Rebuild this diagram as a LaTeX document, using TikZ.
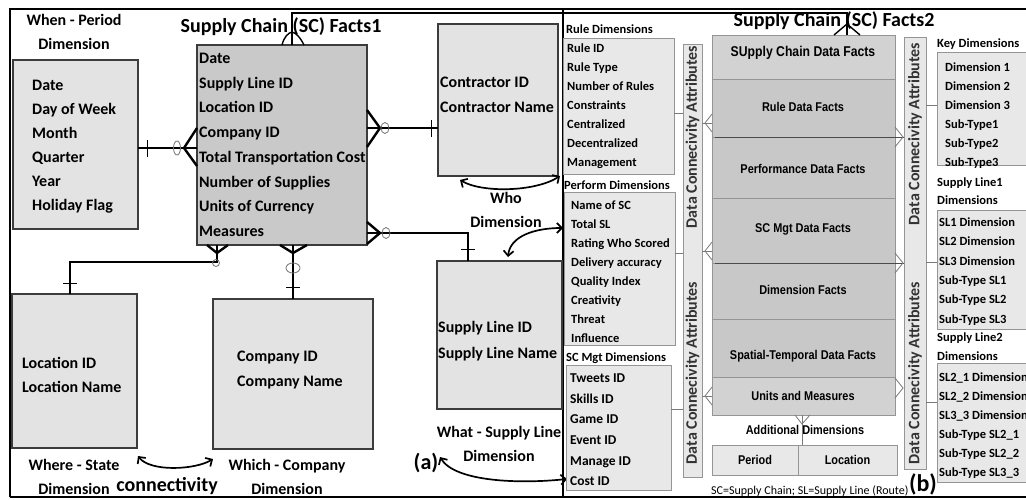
\documentclass[tikz,border=0pt]{standalone}
\usepackage{fontspec}
\setmainfont{Carlito}
\newfontfamily\arialn[FakeStretch=0.86]{Liberation Sans}
\usetikzlibrary{arrows.meta}
\definecolor{boxA}{HTML}{E3E3E3}
\definecolor{factA}{HTML}{C9C9C9}
\definecolor{edgeA}{HTML}{3C3C3C}
\definecolor{boxB}{HTML}{E8E8E8}
\definecolor{edgeB}{HTML}{959595}
\definecolor{factB}{HTML}{C8C8C8}
\definecolor{factC}{HTML}{D2D2D2}
\definecolor{linkB}{HTML}{7A7A7A}
\definecolor{inkB}{HTML}{333333}

% rectangle node from its corners (x1,y1)-(x2,y2)
\newcommand\rectnode[6]{\node[#1, rectangle, inner sep=0pt, outer sep=0pt,
  minimum width={(#5-#3)*1pt}, minimum height={(#6-#4)*1pt}]
  (#2) at ({(#3+#5)/2},{(#4+#6)/2}) {};}
% a column of left-aligned text lines: style, prefix, x, first baseline, step, items
\newcommand\stack[6]{\foreach \itm [count=\i from 0] in {#6}
  {\node[#1, anchor=base west, inner sep=0pt] (#2-\i) at (#3, #4+#5*\i) {\itm};}}

\begin{document}
\begin{tikzpicture}[x=1pt,y=-1pt,
  boxa/.style={draw=edgeA,fill=boxA,line width=1.1pt},
  facta/.style={draw=edgeA,fill=factA,line width=1.1pt},
  boxb/.style={draw=edgeB,fill=boxB,line width=0.9pt},
  factrow/.style={draw=edgeB,fill=factB,line width=0.9pt},
  factrowl/.style={draw=edgeB,fill=factC,line width=0.9pt},
  er/.style={line width=2.4pt,black},
  erbar/.style={line width=1pt,black},
  eroval/.style={line width=0.8pt,draw=black!55},
  thinl/.style={line width=0.8pt,draw=linkB},
  link/.style={line width=1.4pt,black},
  hand/.style={line width=1.7pt,{Straight Barb[length=5pt,width=10pt]}-{Straight Barb[length=5pt,width=10pt]}},
  tA/.style={font=\bfseries\fontsize{16}{24}\selectfont},
  tT/.style={font=\bfseries\fontsize{20}{24}\selectfont},
  tB/.style={font=\bfseries\fontsize{12.5}{15}\selectfont},
  tC/.style={font=\bfseries\fontsize{13.5}{16}\selectfont},
  tF/.style={font=\arialn\bfseries\fontsize{12.7}{15}\selectfont},
  dca/.style={rotate=90,text=inkB,font=\bfseries\fontsize{16}{17}\selectfont}]

\useasboundingbox (0,0) rectangle (1026,500);
\fill[white] (0,0) rectangle (1026,500);

% frame and panel divider
\draw[line width=2.6pt] (10,497) -- (10,9) -- (1030,9);
\draw[line width=2pt] (10,497) -- (1030,497);
\draw[line width=1.2pt] (563,9) -- (563,497);

% ---------- panel (a): star schema ----------
\rectnode{boxa}{when}{13}{60}{138}{229}
\rectnode{facta}{f1}{197}{45}{367}{245}
\rectnode{boxa}{con}{438}{24}{558}{176}
\rectnode{boxa}{sl}{437}{261}{562}{409}
\rectnode{boxa}{loc}{12}{294}{137}{448}
\rectnode{boxa}{com}{213}{299}{373}{449}

% When -> Facts1
\draw[er] (when.east |- 0,148) -- (f1.west |- 0,148);
\draw[er] (f1.west |- 0,128) -- (184,148) -- (f1.west |- 0,166);
\draw[erbar] (147,140) -- (147,157);
\draw[eroval] (177,148) ellipse (3.5pt and 7pt);
% Facts1 -> Contractor
\draw[er] (f1.east |- 0,128) -- (con.west |- 0,128);
\draw[er] (f1.east |- 0,110) -- (380,128) -- (f1.east |- 0,147);
\draw[eroval] (385,128) ellipse (4pt and 5.5pt);
\draw[erbar] (431,120) -- (431,137);
% Facts1 -> Supply Line
\draw[er] (f1.east |- 0,233) -- (468,233) -- (sl.north -| 468,0);
\draw[er] (f1.east |- 0,222) -- (380,233) -- (f1.east |- 0,244);
\draw[eroval] (386,233) ellipse (4pt and 5.5pt);
\draw[erbar] (461,249) -- (475,249);
% Facts1 -> Location
\draw[er] (f1.south -| 217,0) -- (217,262) -- (70,262) -- (loc.north -| 70,0);
\draw[er] (f1.south -| 207,0) -- (217,253) -- (f1.south -| 228,0);
\draw[eroval] (216,263) circle (3.5pt);
\draw[erbar] (63,283) -- (77,283);
% Facts1 -> Company
\draw[er] (f1.south -| 293,0) -- (com.north -| 293,0);
\draw[er] (f1.south -| 280,0) -- (293,253) -- (f1.south -| 307,0);
\draw[eroval] (293,268) ellipse (7pt and 5pt);
\draw[erbar] (286,287) -- (300,287);

% box contents
\stack{tA}{whenT}{32}{90.5}{24}{Date,Day of Week,Month,Quarter,Year,Holiday Flag}
\stack{tA}{f1T}{199}{63.5}{24.7}{Date,Supply Line ID,Location ID,Company ID,Total Transportation Cost,Number of Supplies,Units of Currency,Measures}
\stack{tA}{conT}{440}{87.5}{25}{Contractor ID,Contractor Name}
\stack{tA}{slT}{438}{332.5}{25.5}{Supply Line ID,Supply Line Name}
\stack{tA}{locT}{22}{368.5}{24}{Location ID,Location Name}
\stack{tA}{comT}{237}{361.5}{25}{Company ID,Company Name}

% labels
\node[tA,align=center] (whenL) at (74,32) {When - Period\\Dimension};
\node[tT] (f1L) at (281,27) {Supply Chain (SC) Facts1};
\node[tA,align=center] (whoL) at (506,210) {Who\\Dimension};
\node[tA,align=center] (whatL) at (499,444) {What - Supply Line\\Dimension};
\node[tA,align=center] (whereL) at (74,477) {Where - State\\Dimension};
\node[tA,align=center] (whichL) at (287,477) {Which - Company\\Dimension};
\node[tT] (connL) at (167,486) {connectivity};
\node[font=\bfseries\fontsize{22}{24}\selectfont] (aL) at (426,463) {(a)};

% hand-drawn arrows
\draw[hand] (460,180) .. controls (482,193) and (535,192) .. (560,176);
\draw[hand] (508,257) .. controls (510,236) and (535,228) .. (563,228);
\draw[hand] (440,457) .. controls (455,482) and (520,484) .. (567,479);
\draw[hand] (138,456) .. controls (150,472) and (195,470) .. (213,459);

% ---------- panel (b): layered facts ----------
\rectnode{boxb}{rule}{563}{38}{674}{174}
\rectnode{boxb}{perf}{564}{192}{675}{345}
\rectnode{boxb}{mgt}{566}{365}{671}{490}
\rectnode{boxb}{dcaL}{683}{44}{702}{477}
\rectnode{factrowl}{fr1}{712}{35}{895}{79}
\rectnode{factrow}{fr2}{712}{79}{895}{137}
\rectnode{factrow}{fr3}{712}{137}{895}{198}
\rectnode{factrow}{fr4}{712}{198}{895}{263}
\rectnode{factrow}{fr5}{712}{263}{895}{319}
\rectnode{factrow}{fr6}{712}{319}{895}{377}
\rectnode{factrowl}{fr7}{712}{377}{895}{415}
\rectnode{boxb}{dcaR}{904}{37}{926}{469}
\rectnode{boxb}{key}{937}{52}{1035}{165}
\rectnode{boxb}{sla}{937}{210}{1035}{329}
\rectnode{boxb}{slb}{937}{363}{1035}{482}
\rectnode{boxb}{per}{712}{445}{798}{475}
\rectnode{boxb}{locb}{798}{445}{897}{475}

% links: dimension boxes to the left attribute bar
\draw[thinl] (rule.east |- 0,113) -- (dcaL.west |- 0,113);
\draw[thinl] (perf.east |- 0,253) -- (dcaL.west |- 0,253);
\draw[thinl] (mgt.east |- 0,409) -- (dcaL.west |- 0,409);
% left attribute bar to the fact table
\foreach \yy in {123,251,396}{
  \draw[thinl] (dcaL.east |- 0,\yy) -- (fr1.west |- 0,\yy);
  \draw[thinl] (712,\yy-9) -- (705,\yy) -- (712,\yy+9);}
% fact table to the right attribute bar
\draw[thinl,draw=black!70] (715,137) -- (dcaR.west |- 0,137);
\draw[thinl,draw=black!70] (715,263) -- (dcaR.west |- 0,263);
\foreach \yy in {137,263,388}{
  \draw[thinl] (895,\yy-10) -- (903,\yy) -- (895,\yy+10);}
% right attribute bar to key and supply line boxes
\draw[thinl] (dcaR.east |- 0,105) -- (key.west |- 0,105);
\draw[thinl] (dcaR.east |- 0,262) -- (sla.west |- 0,262);
\draw[thinl] (dcaR.east |- 0,402) -- (slb.west |- 0,402);
% fact table to additional dimensions
\node[tF] (addL) at (805,430) {Additional Dimensions};
\draw[thinl] (fr7.south -| 802,0) -- (locb.north -| 802,0);
\draw[thinl] (795,415) -- (802,424) -- (810,415);

% link between the two fact tables
\draw[link] (f1.north -| 292,0) -- (292,13) -- (847,13) -- (fr1.north -| 847,0);
\draw[link] (282,45) .. controls (284,37) and (288,33) .. (292,32) .. controls (296,33) and (300,37) .. (304,45);
\draw[link] (834,35) -- (847,24) -- (860,35);

% fact table rows
\node[tF,font=\arialn\bfseries\fontsize{14.2}{16}\selectfont] (fr1T) at (803,53) {SUpply Chain Data Facts};
\node[tF] (fr2T) at (803,107) {Rule Data Facts};
\node[tF] (fr3T) at (803,169) {Performance Data Facts};
\node[tF] (fr4T) at (803,229) {SC Mgt Data Facts};
\node[tF] (fr5T) at (803,290) {Dimension Facts};
\node[tF] (fr6T) at (803,356) {Spatial-Temporal Data Facts};
\node[tF] (fr7T) at (803,396) {Units and Measures};
\node[tF] (perT) at (per) {Period};
\node[tF] (locbT) at (locb) {Location};

% attribute bars
\node[dca] (dcaL1) at (692.5,137) {Data Connecivity Attributes};
\node[dca] (dcaL2) at (692.5,373) {Data Connecivity Attributes};
\node[dca] (dcaR1) at (915,134) {Data Connecivity Attributes};
\node[dca] (dcaR2) at (915,373) {Data Connecivity Attributes};

% dimension lists
\node[tB,anchor=base west,inner sep=0pt] (ruleL) at (566,33.3) {Rule Dimensions};
\node[tB,anchor=base west,inner sep=0pt] (perfL) at (564,189.3) {Perform Dimensions};
\node[tB,anchor=base west,inner sep=0pt] (mgtL) at (566,361.3) {SC Mgt Dimensions};
\node[tB,anchor=base west,inner sep=0pt] (keyL) at (937,47.3) {Key Dimensions};
\stack{tB}{slaL}{937}{186.3}{18}{Supply Line1,Dimensions}
\stack{tB}{slbL}{937}{341.3}{19}{Supply Line2,Dimensions}
\stack{tB}{ruleT}{567}{52.3}{19}{Rule ID,Rule Type,Number of Rules,Constraints,Centralized,Decentralized,Management}
\stack{tB}{perfT}{571}{209.3}{19}{Name of SC,Total SL,Rating Who Scored,Delivery accuracy,Quality Index,Creativity,Threat,Influence}
\stack{tC}{mgtT}{570}{382.7}{20.6}{Tweets ID,Skills ID,Game ID,Event ID,Manage ID,Cost ID}
\stack{tB}{keyT}{945}{71.3}{19}{Dimension 1,Dimension 2,Dimension 3,Sub-Type1,Sub-Type2,Sub-Type3}
\stack{tB}{slaT}{939}{226.3}{19.4}{SL1 Dimension,SL2 Dimension,SL3 Dimension,Sub-Type SL1,Sub-Type SL2,Sub-Type SL3}
\stack{tB}{slbT}{939}{381.3}{19}{SL2\_1 Dimension,SL2\_2 Dimension,SL3\_3 Dimension,Sub-Type SL2\_1,Sub-Type SL2\_2,Sub-Type SL3\_3}

\node[tT] (f2L) at (834,21) {Supply Chain (SC) Facts2};
\node[font=\fontsize{12}{14}\selectfont,anchor=base west,inner sep=0pt] (noteL) at (711,494) {SC=Supply Chain; SL=Supply Line (Route)};
\node[font=\bfseries\fontsize{24}{26}\selectfont] (bL) at (923,484) {(b)};
\end{tikzpicture}
\end{document}
